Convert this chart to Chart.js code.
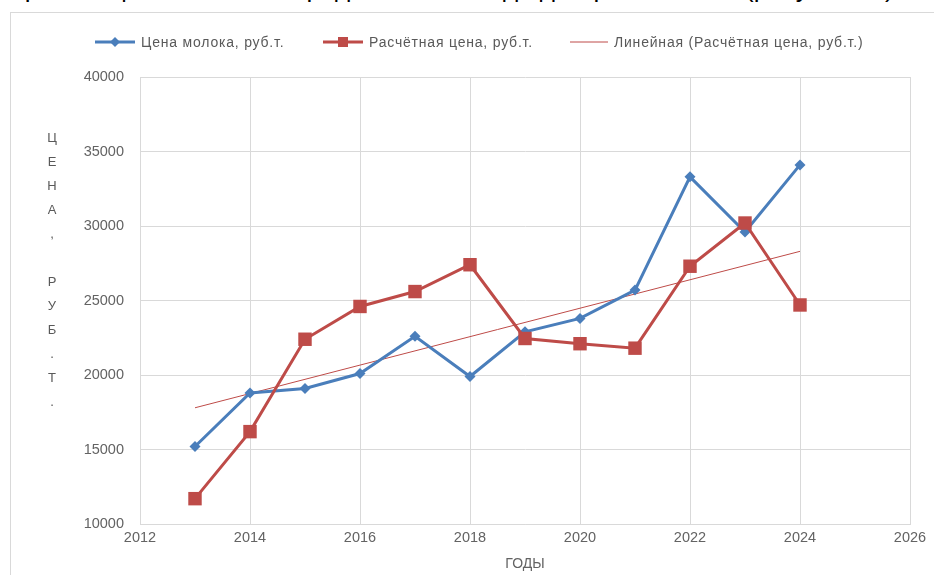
<!DOCTYPE html>
<html>
<head>
<meta charset="utf-8">
<script src="https://cdn.jsdelivr.net/npm/chart.js@4"></script>
<style>
  body { margin: 0; background: #fff; width: 934px; height: 575px; overflow: hidden; position: relative; font-family: "Liberation Sans", Arial, sans-serif; }
  .top { position: absolute; top: -27px; font-size: 26px; color: #000; white-space: nowrap; }
  #frame { position: absolute; left: 10px; top: 12px; width: 940px; height: 580px; border: 1px solid #d9d9d9; background: #fff; }
  #chart { position: absolute; left: 0; top: 0; }
  .lg { position: absolute; top: 34px; height: 16px; display: flex; align-items: center; font-size: 14px; letter-spacing: 0.8px; color: #595959; white-space: nowrap; }
  .lg svg { margin-right: 4px; }
  #ytitle { position: absolute; left: 40px; top: 126px; width: 24px; text-align: center; font-size: 13px; line-height: 24px; color: #595959; }
</style>
</head>
<body>
<div class="top" style="left:6px">Прогноз цен на молоко представлен в виде диаграммы</div>
<div class="top" style="left:745px">(рисунок 12)</div>
<div id="frame"></div>
<canvas id="chart" width="934" height="575"></canvas>
<div class="lg" style="left:95px"><svg width="42" height="12"><line x1="0" y1="6" x2="40" y2="6" stroke="#4a7ebb" stroke-width="3"/><polygon points="20,1 25,6 20,11 15,6" fill="#4a7ebb"/></svg>Цена молока, руб.т.</div>
<div class="lg" style="left:323px"><svg width="42" height="12"><line x1="0" y1="6" x2="40" y2="6" stroke="#be4b48" stroke-width="3"/><rect x="15" y="1" width="10" height="10" fill="#be4b48"/></svg>Расчётная цена, руб.т.</div>
<div class="lg" style="left:570px"><svg width="40" height="12"><line x1="0" y1="6" x2="38" y2="6" stroke="#be4b48" stroke-width="1"/></svg>Линейная (Расчётная цена, руб.т.)</div>
<div id="ytitle"></div>
<script>
// данные
const years = [2013, 2014, 2015, 2016, 2017, 2018, 2019, 2020, 2021, 2022, 2023, 2024];
const milkPrice = [15200, 18800, 19100, 20100, 22600, 19900, 22900, 23800, 25700, 33300, 29600, 34100];
const calcPrice = [11700, 16200, 22400, 24600, 25600, 27400, 22450, 22100, 21800, 27300, 30200, 24700];
const trendYears = [2013, 2024];
const trendValues = [17800, 28300];
const seriesNames = ['Цена молока, руб.т.', 'Расчётная цена, руб.т.', 'Линейная (Расчётная цена, руб.т.)'];
const yTitle = 'ЦЕНА, РУБ.Т.';
const xTitle = 'ГОДЫ';

// вертикальная подпись оси Y
document.getElementById('ytitle').innerHTML = yTitle.split('').map(c => c === ' ' ? '&nbsp;' : c).join('<br>');

const blue = '#4a7ebb';
const red = '#be4b48';
const grid = '#d9d9d9';
const txt = '#636363';

function pts(xs, ys) {
  return xs.map((x, i) => ({ x: x, y: ys[i] }));
}

new Chart(document.getElementById('chart'), {
  type: 'line',
  data: {
    datasets: [
      { label: seriesNames[2], data: pts(trendYears, trendValues), borderColor: red, borderWidth: 1, pointRadius: 0, order: 3 },
      { label: seriesNames[0], data: pts(years, milkPrice), borderColor: blue, backgroundColor: blue, borderWidth: 3,
        pointStyle: 'rectRot', pointRadius: 5.5, pointBorderWidth: 0, order: 2 },
      { label: seriesNames[1], data: pts(years, calcPrice), borderColor: red, backgroundColor: red, borderWidth: 3,
        pointStyle: 'rect', pointRadius: 9.5, pointBorderWidth: 0, order: 1 }
    ]
  },
  options: {
    responsive: false,
    animation: false,
    devicePixelRatio: 1,
    layout: { padding: { left: 70, right: 24, top: 77, bottom: 2 } },
    plugins: { legend: { display: false }, tooltip: { enabled: false } },
    scales: {
      x: {
        type: 'linear', min: 2012, max: 2026,
        ticks: { stepSize: 2, color: txt, font: { family: 'Liberation Sans', size: 14.5 }, padding: 5,
          callback: v => String(v) },
        grid: { color: grid, drawTicks: false },
        border: { color: grid },
        title: { display: true, text: xTitle, color: txt, font: { family: 'Liberation Sans', size: 14 }, padding: { top: 1, bottom: 0 } },
        afterFit: s => { s.height = 49; }
      },
      y: {
        min: 10000, max: 40000,
        ticks: { stepSize: 5000, color: txt, font: { family: 'Liberation Sans', size: 14.5 }, padding: 16,
          callback: v => String(v) },
        grid: { color: grid, drawTicks: false },
        border: { color: grid },
        afterFit: s => { s.width = 70; }
      }
    }
  }
});
</script>
</body>
</html>
